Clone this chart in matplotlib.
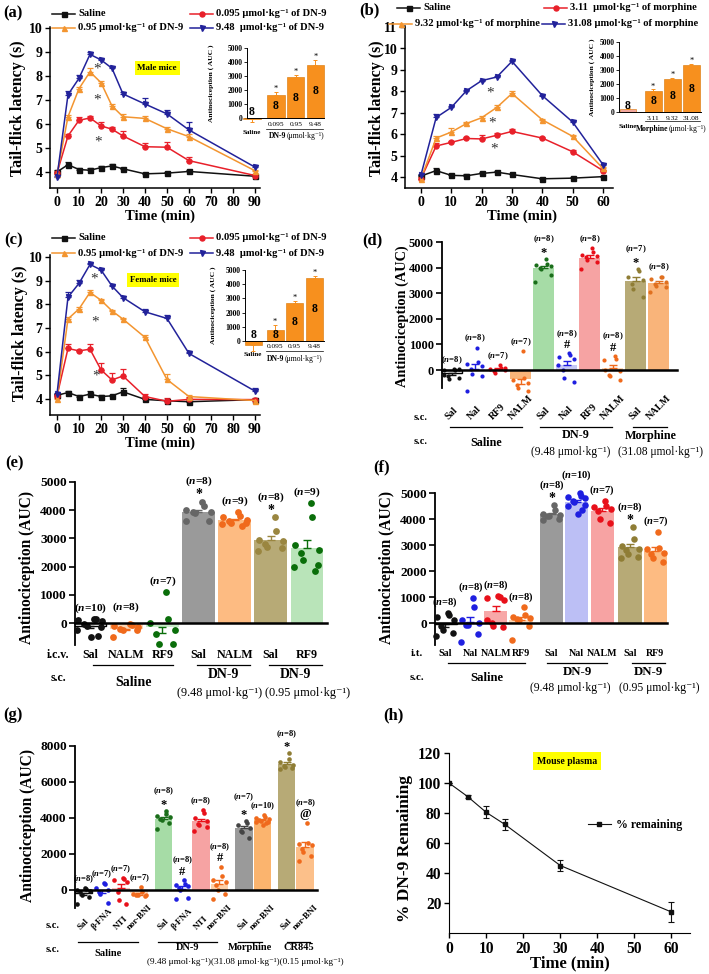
import numpy as np
import matplotlib.pyplot as plt
from matplotlib import transforms
from matplotlib.lines import Line2D

# ---------------- data ----------------
# (a) male mice, DN-9, tail-flick latency (s)
t_a = [0, 5, 10, 15, 20, 25, 30, 40, 50, 60, 90]
a_sal = [4.0, 4.3, 4.1, 4.07, 4.18, 4.25, 4.13, 3.92, 3.95, 4.02, 3.82]
a_sal_e = [0.08, 0.1, 0.08, 0.08, 0.07, 0.07, 0.05, 0.05, 0.05, 0.06, 0.05]
a_lo = [3.95, 5.5, 6.15, 6.25, 5.92, 5.78, 5.5, 5.05, 5.03, 4.47, 3.85]
a_lo_e = [0.08, 0.08, 0.12, 0.1, 0.15, 0.1, 0.2, 0.15, 0.2, 0.15, 0.05]
a_mid = [3.9, 6.3, 7.47, 8.17, 7.72, 6.75, 6.3, 6.23, 5.8, 5.47, 4.05]
a_mid_e = [0.05, 0.08, 0.06, 0.15, 0.08, 0.1, 0.1, 0.1, 0.08, 0.1, 0.05]
a_hi = [3.78, 7.22, 7.9, 8.9, 8.67, 8.32, 7.25, 6.83, 6.42, 5.75, 4.2]
a_hi_e = [0.05, 0.15, 0.12, 0.1, 0.05, 0.05, 0.1, 0.25, 0.15, 0.35, 0.1]
a_auc = [-40, 1650, 2900, 3800]
a_auc_e = [250, 200, 150, 350]

# (b) morphine
t_b = [0, 5, 10, 15, 20, 25, 30, 40, 50, 60]
b_sal = [4.05, 4.3, 4.08, 4.06, 4.17, 4.23, 4.12, 3.92, 3.95, 4.02]
b_sal_e = [0.05, 0.1, 0.08, 0.08, 0.08, 0.06, 0.04, 0.04, 0.04, 0.04]
b_lo = [3.93, 5.45, 5.62, 5.8, 5.78, 5.95, 6.13, 5.82, 5.18, 4.3]
b_lo_e = [0.05, 0.12, 0.08, 0.06, 0.2, 0.12, 0.1, 0.05, 0.1, 0.05]
b_mid = [3.93, 5.82, 6.1, 6.5, 6.77, 7.25, 7.9, 6.67, 5.9, 4.4]
b_mid_e = [0.05, 0.1, 0.2, 0.08, 0.08, 0.12, 0.1, 0.06, 0.05, 0.05]
b_hi = [4.1, 6.78, 7.25, 8.03, 8.5, 8.67, 9.4, 7.8, 6.57, 4.58]
b_hi_e = [0.05, 0.15, 0.08, 0.05, 0.05, 0.05, 0.08, 0.05, 0.05, 0.05]
b_auc = [180, 1530, 2330, 3330]
b_auc_e = [100, 80, 120, 100]

# (c) female mice, DN-9
c_sal = [4.15, 4.27, 4.1, 4.2, 4.1, 4.13, 4.3, 3.98, 3.92, 3.88, 3.97]
c_sal_e = [0.05, 0.08, 0.06, 0.12, 0.06, 0.05, 0.15, 0.05, 0.05, 0.04, 0.04]
c_lo = [4.12, 6.13, 6.03, 6.1, 5.23, 4.8, 4.97, 4.1, 3.9, 3.98, 3.97]
c_lo_e = [0.1, 0.2, 0.05, 0.2, 0.3, 0.3, 0.3, 0.1, 0.15, 0.1, 0.05]
c_mid = [4.0, 7.38, 7.8, 8.5, 8.17, 7.72, 7.37, 6.6, 4.82, 4.1, 3.93]
c_mid_e = [0.05, 0.08, 0.1, 0.1, 0.05, 0.05, 0.05, 0.12, 0.25, 0.05, 0.05]
c_hi = [4.2, 8.3, 8.88, 9.68, 9.45, 8.77, 8.28, 7.68, 7.4, 5.92, 4.33]
c_hi_e = [0.05, 0.2, 0.15, 0.05, 0.05, 0.05, 0.08, 0.12, 0.15, 0.05, 0.12]
c_auc = [-250, 800, 2650, 4450]
c_auc_e = [420, 300, 150, 100]

auc_n = [8, 8, 8, 8]
dn9_doses = ['0.095', '0.95', '9.48']
mor_doses = ['3.11', '9.32', '31.08']

# (d) s.c. antagonists
d_labels = ['Sal', 'Nal', 'RF9', 'NALM', 'Sal', 'Nal', 'RF9', 'NALM', 'Sal', 'NALM']
d_points = [
    [30, 20, 10, 30, -250, -350, -300, -200],
    [880, 300, 250, 150, 50, -150, -250, -800],
    [200, 100, 50, 0, -50, -100, 100],
    [750, -300, -400, -500, -600, -700, -800],
    [4350, 4150, 4100, 4050, 4000, 3950, 3700, 3450],
    [650, 600, 500, 450, 0, -300, -450, 200],
    [4750, 4600, 4500, 4450, 4400, 4300, 4200, 3950],
    [550, 450, 0, -50, -200, -250, -400, 400],
    [3950, 3850, 3650, 3500, 3350, 3150, 2850],
    [3650, 3650, 3550, 3450, 3350, 3300, 3250, 3050],
]
d_marks = ['', '', '', '', '*', '#', '', '#', '*', '']

# (e) i.c.v. antagonists
e_labels = ['Sal', 'NALM', 'RF9', 'Sal', 'NALM', 'Sal', 'RF9']
e_points = [
    [150, 130, 100, 60, -50, -100, -150, -250, -450, -500],
    [-50, -80, -100, -150, -200, -250, -250, -500],
    [1100, 150, 0, -250, -400, -750, -750],
    [4300, 4150, 4000, 3950, 3950, 3900, 3600, 3600],
    [3950, 3800, 3750, 3650, 3600, 3550, 3550, 3500, 3450],
    [3750, 3250, 2950, 2900, 2800, 2700, 2650, 2550],
    [4250, 3750, 2750, 2600, 2500, 2250, 2050, 2000, 1850],
]
e_marks = ['', '', '', '*', '', '*', '']

# (f) i.t. antagonists
f_labels = ['Sal', 'Nal', 'NALM', 'RF9', 'Sal', 'Nal', 'NALM', 'Sal', 'RF9']
f_points = [
    [400, 300, 250, 100, -100, -250, -400, -500],
    [980, 620, 130, 0, -60, -80, -420, -720],
    [1050, 1000, 950, 900, 0, -100, -150, 100],
    [600, 300, 250, 200, 150, 100, -100, -650],
    [4550, 4350, 4200, 4150, 4100, 4100, 4000, 3950],
    [5000, 4900, 4850, 4800, 4700, 4650, 4550, 4500, 4350, 4200],
    [4700, 4500, 4450, 4400, 4300, 4000, 3850],
    [3700, 3250, 2950, 2850, 2800, 2650, 2550, 2500],
    [3500, 2900, 2850, 2700, 2650, 2500, 2350],
]
f_marks = ['', '', '', '', '*', '', '', '*', '']

# (g) opioid receptor antagonists
g_labels = ['Sal', 'β-FNA', 'NTI', 'nor-BNI', 'Sal', 'β-FNA', 'NTI', 'nor-BNI',
            'Sal', 'nor-BNI', 'Sal', 'nor-BNI']
g_points = [
    [100, 50, 0, -50, -100, -250, -400, -800],
    [400, 350, 100, 0, -100, -200, -700],
    [650, 600, 550, 450, -100, -550, -750],
    [150, -100, -200, -250, -300, -300, -350],
    [4400, 4200, 4100, 4050, 3950, 3900, 3700, 3400],
    [550, 350, 300, 200, 100, 0, -450, -500],
    [4450, 4300, 4000, 3850, 3650, 3600, 3500, 3300],
    [1300, 800, 550, 450, 300, 0, -200, -500],
    [3850, 3700, 3600, 3450, 3300, 3200, 2900],
    [4150, 4050, 4000, 3950, 3900, 3850, 3800, 3800, 3700, 3600],
    [7600, 7300, 7100, 6950, 6900, 6850, 6800, 6700],
    [3750, 2600, 2550, 2500, 2300, 2100, 1900, 1600],
]
g_marks = ['', '', '', '', '*', '#', '', '#', '*', '', '*', '@']

# (h) plasma stability
h_t = [0, 5, 10, 15, 30, 60]
h_val = [100, 91, 80.5, 72.5, 45, 14]
h_err = [0, 1, 4, 3.5, 3.5, 6.5]

# ---------------- style ----------------
W, H = 709, 974
plt.rcParams['font.family'] = ['Liberation Serif', 'DejaVu Serif']
plt.rcParams['font.weight'] = 'bold'
plt.rcParams['mathtext.fontset'] = 'custom'
plt.rcParams['mathtext.rm'] = 'Liberation Serif:bold'
plt.rcParams['mathtext.it'] = 'Liberation Serif:italic:bold'
plt.rcParams['mathtext.bf'] = 'Liberation Serif:bold'

BLK, RED, ORG, NAVY = '#111111', '#e8202a', '#f39530', '#22229a'
INS = '#f7901e'

fig = plt.figure(figsize=(W / 100, H / 100), dpi=100)
PX = transforms.Affine2D().scale(1 / W, -1 / H).translate(0, 1) + fig.transFigure


def px_axes(l, t, r, b):
    return fig.add_axes([l / W, 1 - b / H, (r - l) / W, (b - t) / H])


def ftext(x, y, s, tr=None, **kw):
    kw.setdefault('ha', 'center')
    kw.setdefault('va', 'center')
    return fig.text(x, y, s, transform=tr or PX, **kw)


def bx(ax):
    return transforms.blended_transform_factory(ax.transData, PX)


def time_panel(rect, xlim, ylim, xticks, yticks, t, series):
    ax = px_axes(*rect)
    for vals, errs, col, mk in series:
        errs = np.asarray(errs)
        ax.errorbar(t, vals, yerr=[np.zeros_like(errs), errs], color=col, marker=mk,
                    ms=3.6, lw=1.1, elinewidth=0.9, capsize=2.2, capthick=0.9)
    ax.set_xlim(*xlim)
    ax.set_ylim(*ylim)
    ax.set_xticks(xticks)
    ax.set_yticks(yticks)
    for s in ['top', 'right']:
        ax.spines[s].set_visible(False)
    for s in ['left', 'bottom']:
        ax.spines[s].set_linewidth(1.1)
    ax.tick_params(direction='out', length=3.5, width=1, labelsize=10, pad=2)
    return ax


def legend_row(x0, y, col, mk, label, seg=23):
    fig.add_artist(Line2D([x0, x0 + seg], [y, y], color=col, lw=1.1, transform=PX))
    fig.add_artist(Line2D([x0 + seg / 2], [y], color=col, marker=mk, ms=3.6, transform=PX))
    ftext(x0 + seg + 3, y, label, ha='left', fontsize=7.6)


def inset(rect, pos, xlim, vals, errs, cols, ns, ylab_x):
    ax = px_axes(*rect)
    ax.bar(pos, vals, width=0.87, color=cols, edgecolor='#d87400', lw=0.4,
           clip_on=False, zorder=2)
    for p, v, e in zip(pos, vals, errs):
        lo, hi = (0, e) if v >= 0 else (e, 0)
        ax.errorbar([p], [v], yerr=[[lo], [hi]], color=INS, elinewidth=0.7,
                    capsize=1.5, capthick=0.7, clip_on=False, zorder=3)
    for p, v, e in zip(pos[1:], vals[1:], errs[1:]):
        ax.annotate('*', (p, v + e), xytext=(0, 2.2), textcoords='offset points',
                    ha='center', va='center', fontsize=6, fontweight='normal')
    for p, v, n in zip(pos, vals, ns):
        ax.text(p, max(v / 2, 400), str(n), ha='center', va='center', fontsize=8.5, zorder=4)
    ax.set_xlim(*xlim)
    ax.set_ylim(0, 5000)
    ax.set_yticks(range(0, 5001, 1000))
    ax.set_xticks([])
    for s in ['top', 'right']:
        ax.spines[s].set_visible(False)
    for s in ['left', 'bottom']:
        ax.spines[s].set_linewidth(0.7)
    ax.tick_params(direction='out', length=2, width=0.6, labelsize=5.5, pad=1)
    l, t, r, b = rect
    ftext(ylab_x, (t + b) / 2, 'Antinociception ( AUC )', rotation=90, fontsize=5.4)
    return ax


def inset_labels(ax, pos, doses, y_num, y_sal, y_line, line_px, y_grp, x_grp, drug):
    tr = bx(ax)
    for p, d in zip(pos[1:], doses):
        ftext(p, y_num, d, tr=tr, fontsize=5.3, fontweight='normal')
    ftext(pos[0], y_sal, 'Saline', tr=tr, fontsize=5)
    fig.add_artist(Line2D(line_px, [y_line, y_line], transform=PX, color='black', lw=0.5))
    ftext(x_grp, y_grp, drug, ha='right', fontsize=5.5)
    ftext(x_grp + 1, y_grp, '(μmol·kg⁻¹)', ha='left', fontsize=5.5, fontweight='normal')


def jitter(n):
    return np.sin(np.arange(n) * 2.4 + 0.3)


def bar_panel(rect, xlim, ylim, yticks, pos, groups, bar_cols, dot_cols, marks,
              width, dot_s, nsize, msize, n_off=6.5, m_off=6.0, n_gap=8.0, n_extra=None):
    n_extra = n_extra or {}
    ax = px_axes(*rect)
    for i, (p, vals, bc, dc, mk) in enumerate(zip(pos, groups, bar_cols, dot_cols, marks)):
        v = np.asarray(vals, float)
        m = v.mean()
        se = v.std(ddof=1) / np.sqrt(len(v))
        ec = 'black' if bc == 'white' else 'none'
        ax.bar(p, m, width=width, color=bc, edgecolor=ec, linewidth=1.0, zorder=1)
        yerr = [[0], [se]] if m >= 0 else [[se], [0]]
        ax.errorbar([p], [m], yerr=yerr, color=dc, capsize=3, elinewidth=1.0,
                    capthick=1.0, zorder=2)
        ax.scatter(p + jitter(len(v)) * 0.36, v, s=dot_s, color=dc, zorder=3,
                   clip_on=False, linewidths=0)
        top = max(v.max(), m + se, 0)
        ny = n_off
        if mk:
            shift = -1.6 if mk == '*' else 0
            ax.annotate(mk, (p, top), xytext=(0, m_off + shift), textcoords='offset points',
                        ha='center', va='center', fontsize=msize, annotation_clip=False)
            ny = m_off + n_gap
        ax.annotate(f'($n$={len(v)})', (p, top), xytext=(0, ny + n_extra.get(i, 0)),
                    textcoords='offset points', ha='center', va='center', fontsize=nsize,
                    annotation_clip=False)
    ax.set_xlim(*xlim)
    ax.set_ylim(*ylim)
    ax.set_yticks(yticks)
    ax.set_xticks([])
    for s in ['top', 'right']:
        ax.spines[s].set_visible(False)
    ax.spines['left'].set_linewidth(1.3)
    ax.spines['bottom'].set_position(('data', 0))
    ax.spines['bottom'].set_linewidth(1.8)
    ax.spines['bottom'].set_zorder(4)
    ax.tick_params(axis='y', direction='out', length=4, width=1.2, pad=2)
    return ax


def cat_labels(ax, pos, labels, y, size, rot=0):
    tr = bx(ax)
    for p, s in zip(pos, labels):
        if rot:
            ftext(p, y, s, tr=tr, rotation=rot, va='bottom', fontsize=size)
        else:
            ftext(p, y, s, tr=tr, fontsize=size)


def group_marks(ax, pos, spans, names, name_y, y_line, size):
    tr = bx(ax)
    for (i0, i1, a, b), name, yn in zip(spans, names, name_y):
        x0, x1 = pos[i0] + a, pos[i1] + b
        fig.add_artist(Line2D([x0, x1], [y_line, y_line], transform=tr, color='black', lw=0.9))
        ftext((x0 + x1) / 2, yn, name, tr=tr, fontsize=size)


# ---------------- (a) ----------------
ax = time_panel((50, 27, 260, 188), (-3.18, 92.3), (3.33, 10.04), range(0, 91, 10),
                range(4, 11), t_a,
                [(a_sal, a_sal_e, BLK, 's'), (a_lo, a_lo_e, RED, 'o'),
                 (a_mid, a_mid_e, ORG, '^'), (a_hi, a_hi_e, NAVY, 'v')])
for x, y in [(18, 8.3), (18, 7.0), (18.5, 5.24)]:
    ax.text(x, y, '*', ha='center', va='center', fontsize=11, color='#333333', fontweight='normal')
ax.text(45.5, 8.33, 'Male mice', ha='center', va='center', fontsize=6.5,
        bbox=dict(facecolor='#ffff00', edgecolor='none', pad=2))
ftext(18, 108, 'Tail-flick latency (s)', rotation=90, fontsize=11.5)
ftext(160, 216, 'Time (min)', fontsize=10.5)
legend_row(52, 14, BLK, 's', 'Saline')
legend_row(190, 14, RED, 'o', '0.095 μmol·kg⁻¹ of DN-9')
legend_row(52, 28, ORG, '^', '0.95 μmol·kg⁻¹ of DN-9')
legend_row(190, 28, NAVY, 'v', '9.48  μmol·kg⁻¹ of DN-9')
ftext(13, 13, '(a)', fontsize=12)
pos_ia = [0, 1.22, 2.22, 3.22]
ia = inset((247, 48, 324, 118), pos_ia, (-0.254, 3.655), a_auc, a_auc_e, [INS] * 4, auc_n, 211)
inset_labels(ia, pos_ia, dn9_doses, 124, 133, 129, (266, 323), 135.5, 286, 'DN-9')

# ---------------- (b) ----------------
ax = time_panel((405, 26, 613, 188), (-5.27, 63.3), (3.49, 11.05), range(0, 61, 10),
                range(4, 12), t_b,
                [(b_sal, b_sal_e, BLK, 's'), (b_lo, b_lo_e, RED, 'o'),
                 (b_mid, b_mid_e, ORG, '^'), (b_hi, b_hi_e, NAVY, 'v')])
for x, y in [(22.7, 7.93), (23.5, 6.5), (24, 5.3)]:
    ax.text(x, y, '*', ha='center', va='center', fontsize=11, color='#333333', fontweight='normal')
ftext(377, 108, 'Tail-flick latency (s)', rotation=90, fontsize=11.5)
ftext(522, 216, 'Time (min)', fontsize=10.5)
legend_row(397, 8, BLK, 's', 'Saline')
legend_row(544, 8, RED, 'o', '3.11  μmol·kg⁻¹ of morphine')
legend_row(389, 24, ORG, '^', '9.32 μmol·kg⁻¹ of morphine')
legend_row(542, 24, NAVY, 'v', '31.08 μmol·kg⁻¹ of morphine')
ftext(369, 10, '(b)', fontsize=12)
pos_ib = [0, 1.3, 2.3, 3.28]
ib = inset((619, 42, 701, 112), pos_ib, (-0.466, 3.78), b_auc, b_auc_e,
           ['#f2a79d'] + [INS] * 3, auc_n, 592)
inset_labels(ib, pos_ib, mor_doses, 118, 126, 121, (645, 700), 129, 668, 'Morphine')

# ---------------- (c) ----------------
ax = time_panel((50, 255, 260, 415), (-3.18, 92.3), (3.32, 10.08), range(0, 91, 10),
                range(4, 11), t_a,
                [(c_sal, c_sal_e, BLK, 's'), (c_lo, c_lo_e, RED, 'o'),
                 (c_mid, c_mid_e, ORG, '^'), (c_hi, c_hi_e, NAVY, 'v')])
for x, y in [(17, 9.08), (17.3, 7.25), (17.7, 4.98)]:
    ax.text(x, y, '*', ha='center', va='center', fontsize=11, color='#333333', fontweight='normal')
ax.text(43.6, 9.03, 'Female mice', ha='center', va='center', fontsize=6.3,
        bbox=dict(facecolor='#ffff00', edgecolor='none', pad=2))
ftext(20, 333, 'Tail-flick latency (s)', rotation=90, fontsize=11.5)
ftext(160, 443, 'Time (min)', fontsize=10.5)
legend_row(52, 238, BLK, 's', 'Saline')
legend_row(190, 238, RED, 'o', '0.095 μmol·kg⁻¹ of DN-9')
legend_row(52, 253, ORG, '^', '0.95 μmol·kg⁻¹ of DN-9')
legend_row(190, 253, NAVY, 'v', '9.48  μmol·kg⁻¹ of DN-9')
ftext(14, 240, '(c)', fontsize=12)
pos_ic = [0, 1.12, 2.11, 3.12]
ic = inset((245, 270, 324, 341), pos_ic, (-0.41, 3.6), c_auc, c_auc_e, [INS] * 4, auc_n, 213)
inset_labels(ic, pos_ic, dn9_doses, 347, 354, 351, (266, 323), 359, 284, 'DN-9')

# ---------------- (d) ----------------
pos_d = np.arange(10)
ax = bar_panel((442, 242, 677, 388), (-0.42, 9.8), (-700, 5000), range(0, 5001, 1000), pos_d,
               d_points,
               ['white', '#d8daf8', '#fbd0d0', '#f9b47a', '#a6dca6', '#c6c9f5', '#f6a3a3',
                '#fdd7b5', '#b7aa76', '#f9b47a'],
               [BLK, '#1f1fe0', '#e8101a', '#f06a1c', '#1a6e1a', '#1f1fe0', '#e8101a',
                '#f06a1c', '#8f7d35', '#e07020'],
               d_marks, 0.92, 9, 6.3, 9)
ax.tick_params(axis='y', labelsize=9)
ftext(402, 316, 'Antinociception (AUC)', rotation=90, fontsize=10.4)
cat_labels(ax, pos_d, d_labels, 421, 7.2, rot=45)
ftext(421, 417, 's.c.', fontsize=7.5)
ftext(421, 442, 's.c.', fontsize=7.5)
group_marks(ax, pos_d, [(0, 3, -0.07, 0.06), (4, 7, -0.15, -0.02), (8, 9, -0.1, 0.38)],
            ['Saline', 'DN-9', 'Morphine'], [443, 435, 436], 427, 8.7)
ftext(571, 452, '(9.48 μmol·kg⁻¹)', fontsize=8.3, fontweight='normal')
ftext(660, 452, '(31.08 μmol·kg⁻¹)', fontsize=8.3, fontweight='normal')
ftext(372, 240, '(d)', fontsize=12)

# ---------------- (e) ----------------
pos_e = np.arange(7)
ax = bar_panel((75, 482, 327, 645), (-0.42, 6.56), (-780, 5000), range(0, 5001, 1000), pos_e,
               e_points,
               ['white', '#fdd7b5', '#c8ecc8', '#9a9a9a', '#fdbb82', '#b7aa76', '#b9e4b9'],
               [BLK, '#f06a1c', '#0a6e0a', '#666666', '#f06a1c', '#9a8640', '#0a6e0a'],
               e_marks, 0.9, 24, 8.2, 10, n_off=7.5, m_off=6.5, n_gap=8, n_extra={1: 4})
ax.tick_params(axis='y', labelsize=9.6)
ftext(27, 567, 'Antinociception (AUC)', rotation=90, fontsize=11.2)
cat_labels(ax, pos_e, e_labels, 655, 8.6)
ftext(58, 655, 'i.c.v.', fontsize=8.6)
ftext(58, 678, 's.c.', fontsize=8.6)
group_marks(ax, pos_e, [(0, 2, 0.08, 0.3), (3, 4, -0.05, 0.43), (5, 6, -0.06, 0.43)],
            ['Saline', 'DN-9', 'DN-9'], [682, 675, 675], 665, 10)
ftext(220, 693, '(9.48 μmol·kg⁻¹)', fontsize=8.8, fontweight='normal')
ftext(308, 693, '(0.95 μmol·kg⁻¹)', fontsize=8.8, fontweight='normal')
ftext(15, 463, '(e)', fontsize=12)

# ---------------- (f) ----------------
pos_f = [0, 1, 2, 3, 4.2, 5.2, 6.2, 7.3, 8.3]
ax = bar_panel((435, 493, 667, 645), (-0.4, 8.76), (-846, 5000), range(0, 5001, 1000), pos_f,
               f_points,
               ['white', '#c8cbf6', '#f7a8a8', '#fdd7b5', '#9a9a9a', '#bcbff5', '#f7a3a3',
                '#b7aa76', '#fdbb82'],
               [BLK, '#1f1fe0', '#e8101a', '#f06a1c', '#666666', '#1f1fe0', '#e8101a',
                '#8f7d35', '#f06a1c'],
               f_marks, 0.92, 22, 7.6, 10, n_off=7.5, m_off=6.0, n_gap=8, n_extra={5: 5})
ax.tick_params(axis='y', labelsize=9.6)
ftext(387, 568, 'Antinociception (AUC)', rotation=90, fontsize=11.2)
cat_labels(ax, pos_f, f_labels, 653, 7.2)
ftext(417, 653, 'i.t.', fontsize=7.8)
ftext(417, 677, 's.c.', fontsize=7.8)
group_marks(ax, pos_f, [(0, 3, 0.13, 0.16), (4, 6, -0.18, 0.19), (7, 8, 0.08, 0.4)],
            ['Saline', 'DN-9', 'DN-9'], [678, 672, 672], 663, 9.2)
ftext(570, 688, '(9.48 μmol·kg⁻¹)', fontsize=8.4, fontweight='normal')
ftext(659, 688, '(0.95 μmol·kg⁻¹)', fontsize=8.4, fontweight='normal')
ftext(382, 467, '(f)', fontsize=12)

# ---------------- (g) ----------------
pos_g = [0, 1, 2, 3, 4.3, 5.3, 6.3, 7.3, 8.6, 9.6, 10.9, 11.9]
ax = bar_panel((75, 746, 317, 908), (-0.45, 12.53), (-1000, 8000), range(0, 8001, 2000), pos_g,
               g_points,
               ['white', '#c8cbf6', '#f9c0c0', '#fdd7b5', '#a6dca6', '#c8cbf6', '#f6a3a3',
                '#fdd0a8', '#9a9a9a', '#fbb46e', '#b7aa76', '#fcc08a'],
               [BLK, '#1f1fe0', '#e8101a', '#f06a1c', '#1a6e1a', '#1f1fe0', '#e8101a',
                '#f06a1c', '#444444', '#f06a1c', '#8f7d35', '#f06a1c'],
               g_marks, 0.95, 11, 6.1, 9, n_extra={8: 3})
ax.tick_params(axis='y', labelsize=9.6)
ftext(28, 825, 'Antinociception (AUC)', rotation=90, fontsize=11.2)
cat_labels(ax, pos_g, g_labels, 931, 6.5, rot=45)
ftext(53, 925, 's.c.', fontsize=7.5)
ftext(53, 950, 's.c.', fontsize=7.5)
group_marks(ax, pos_g, [(0, 3, -0.28, -0.06), (4, 7, -0.29, -0.12), (8, 9, -0.3, 0.0),
                        (10, 11, 0.03, 0.27)],
            ['Saline', 'DN-9', 'Morphine', 'CR845'], [953, 948, 948, 948], 942, 7.5)
ftext(147, 962, '(9.48 μmol·kg⁻¹)(31.08 μmol·kg⁻¹)(0.15 μmol·kg⁻¹)', ha='left',
      fontsize=6.7, fontweight='normal')
ftext(13, 715, '(g)', fontsize=12)

# ---------------- (h) ----------------
ax = px_axes(449, 753, 690, 933)
line, = ax.plot(h_t, h_val, color=BLK, lw=0.8, marker='s', ms=3.5)
ax.errorbar(h_t, h_val, yerr=h_err, fmt='none', ecolor=BLK, elinewidth=0.8,
            capsize=2.5, capthick=0.8)
ax.set_xlim(0, 65)
ax.set_ylim(0, 120)
ax.set_xticks(range(0, 61, 10))
ax.set_yticks(range(20, 121, 20))
for s in ['top', 'right']:
    ax.spines[s].set_visible(False)
ax.tick_params(direction='out', length=3.5, width=1, labelsize=11.2, pad=2)
ax.legend([line], ['% remaining'], loc='center left', bbox_to_anchor=(0.575, 0.6),
          frameon=False, handlelength=2.0, borderpad=0, borderaxespad=0,
          handletextpad=0.4, prop={'size': 8.5, 'weight': 'bold'})
ax.text(31.8, 114.6, 'Mouse plasma', ha='center', va='center', fontsize=7,
        bbox=dict(facecolor='#ffff00', edgecolor='none', pad=3))
ftext(405, 848, '% DN-9 Remaining', rotation=90, fontsize=12.5)
ftext(570, 963, 'Time (min)', fontsize=12)
ftext(393, 715, '(h)', fontsize=12)

fig.savefig('out.png', dpi=100)
